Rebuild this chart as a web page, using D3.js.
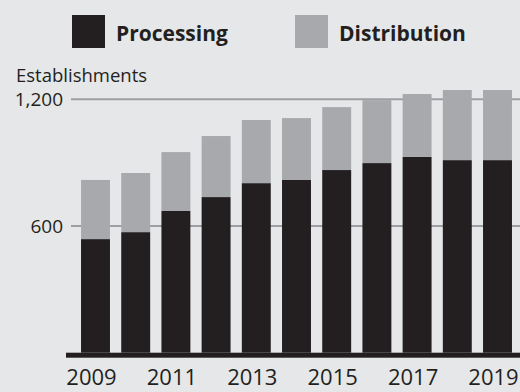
<!DOCTYPE html>
<html lang="en">
<head>
<meta charset="UTF-8">
<title>establishments</title>
<script src="https://cdn.jsdelivr.net/npm/d3@7"></script>
<style>
  html, body { margin: 0; padding: 0; background: #e6e7e8; }
  text { font-family: "Open Sans", "Noto Sans", sans-serif; fill: #231f20; }
</style>
</head>
<body>
<div id="root"></div>
<script>
var width = 520
var height = 392

// values
var years = ['2009','2010','2011','2012','2013','2014','2015','2016','2017','2018','2019']
var processing = [538, 571, 671, 737, 803, 818, 865, 898, 927, 912, 912]
var distribution = [280, 280, 279, 289, 299, 293, 298, 298, 298, 332, 332]
var yTicks = [600, 1200]
var yearLabels = ['2009','2011','2013','2015','2017','2019']

var black = '#231f20'
var gray = '#a7a9ac'

var svg = d3.select('#root')
            .append('svg')
            .attr('width', width)
            .attr('height', height)

svg.append('rect')
    .attr('width', width)
    .attr('height', height)
    .attr('fill', '#e6e7e8')

var x = d3.scaleBand()
          .domain(years)
          .range([75.4, 517.6])
          .paddingInner(0.28)
          .paddingOuter(0.14)

var y = d3.scaleLinear()
          .domain([0, 1200])
          .range([352.7, 99.3])

// gridlines
svg.selectAll('.grid')
    .data(yTicks)
    .enter()
    .append('line')
        .attr('x1', 71)
        .attr('x2', width)
        .attr('y1', function(d){ return y(d) })
        .attr('y2', function(d){ return y(d) })
        .attr('stroke', '#9d9fa2')
        .attr('stroke-width', 2)

svg.selectAll('.tick-label')
    .data(yTicks)
    .enter()
    .append('text')
        .attr('x', 63)
        .attr('y', function(d){ return y(d) })
        .attr('dy', '0.36em')
        .attr('text-anchor', 'end')
        .style('font-size', '19px')
        .text(function(d){ return d3.format(',')(d) })

svg.append('text')
    .attr('x', 16)
    .attr('y', 82)
    .style('font-size', '18.5px')
    .text('Establishments')

// stacked bars
var rows = years.map(function(yr, i){
    return { year: yr, processing: processing[i], distribution: distribution[i] }
})
var stack = d3.stack().keys(['processing', 'distribution'])(rows)
var colors = d3.scaleOrdinal().domain(['processing', 'distribution']).range([black, gray])

svg.selectAll('.series')
    .data(stack)
    .enter()
    .append('g')
        .attr('fill', function(d){ return colors(d.key) })
    .selectAll('rect')
    .data(function(d){ return d })
    .enter()
    .append('rect')
        .attr('x', function(d){ return x(d.data.year) })
        .attr('width', x.bandwidth())
        .attr('y', function(d){ return y(d[1]) })
        .attr('height', function(d){ return y(d[0]) - y(d[1]) })

// baseline
svg.append('rect')
    .attr('x', 66)
    .attr('y', y(0))
    .attr('width', width - 66)
    .attr('height', 5)
    .attr('fill', black)

svg.selectAll('.year')
    .data(yearLabels)
    .enter()
    .append('text')
        .attr('x', function(d){ return x(d) + x.bandwidth() / 2 - 4 })
        .attr('y', 385)
        .attr('text-anchor', 'middle')
        .style('font-size', '22px')
        .text(function(d){ return d })

// legend
var legend = [
    { name: 'Processing', color: black, x: 72 },
    { name: 'Distribution', color: gray, x: 295 }
]
var lg = svg.selectAll('.legend')
    .data(legend)
    .enter()
    .append('g')
        .attr('transform', function(d){ return 'translate(' + d.x + ',15)' })
lg.append('rect')
    .attr('width', 33)
    .attr('height', 33)
    .attr('fill', function(d){ return d.color })
lg.append('text')
    .attr('x', 44)
    .attr('y', 26)
    .style('font-size', '21px')
    .style('font-weight', 'bold')
    .text(function(d){ return d.name })
</script>
</body>
</html>
